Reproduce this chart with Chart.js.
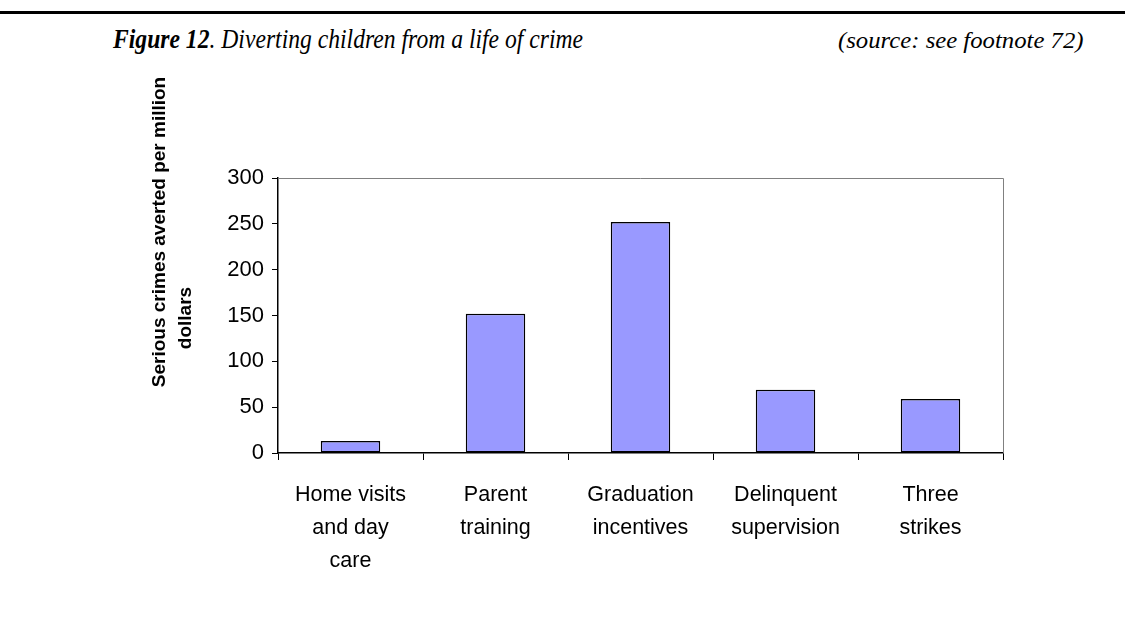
<!DOCTYPE html>
<html>
<head>
<meta charset="utf-8">
<script src="https://cdn.jsdelivr.net/npm/chart.js@4/dist/chart.umd.min.js"></script>
<style>
  html, body { margin: 0; padding: 0; background: #fff; }
  #page { position: relative; width: 1125px; height: 633px; overflow: hidden; }
  #topRule { position: absolute; left: 0; top: 11px; width: 1125px; height: 3px; background: #000; }
  .head { position: absolute; font-family: "Liberation Serif", "Times New Roman", serif; font-style: italic; color: #000; white-space: nowrap; transform-origin: left top; }
  #figTitle { left: 113px; top: 24px; font-size: 27px; transform: scaleX(0.875); }
  #figSource { left: 838px; top: 27px; font-size: 24px; transform: scaleX(1.03); }
  #chartCanvas { position: absolute; left: 0; top: 0; }
</style>
</head>
<body>
<div id="page">
  <div id="topRule"></div>
  <div id="figTitle" class="head"><b>Figure 12</b>. Diverting children from a life of crime</div>
  <div id="figSource" class="head">(source: see footnote 72)</div>
  <canvas id="chartCanvas" width="1125" height="633"></canvas>
</div>
<script>
// DATA
const categories = [
    ['Home visits', 'and day', 'care'],
    ['Parent', 'training'],
    ['Graduation', 'incentives'],
    ['Delinquent', 'supervision'],
    ['Three', 'strikes']
];
const crimesAverted = [13, 152, 252, 69, 59];
const yTitleLines = ['Serious crimes averted per million', 'dollars'];
const yMin = 0;
const yMax = 300;
const yStep = 50;

const fontSans = '"Liberation Sans", Arial, sans-serif';


// PLOT FRAME + ROTATED Y TITLE
function drawRotated(ctx, text, x, y) {
    ctx.save();
    ctx.fillStyle = '#000';
    ctx.font = 'bold 19px ' + fontSans;
    ctx.textAlign = 'center';
    ctx.textBaseline = 'middle';
    ctx.translate(x, y);
    ctx.rotate(-Math.PI / 2);
    ctx.fillText(text, 0, 0);
    ctx.restore();
}

const framePlugin = {
    id: 'frame',
    beforeDatasetsDraw(chart) {
        const { ctx, chartArea } = chart;
        ctx.save();
        ctx.strokeStyle = '#808080';
        ctx.lineWidth = 1;
        ctx.beginPath();
        ctx.moveTo(chartArea.left, chartArea.top + 0.5);
        ctx.lineTo(chartArea.right + 0.5, chartArea.top + 0.5);
        ctx.lineTo(chartArea.right + 0.5, chartArea.bottom);
        ctx.stroke();
        ctx.restore();
    },
    afterDraw(chart) {
        drawRotated(chart.ctx, yTitleLines[0], 160, 232);
        drawRotated(chart.ctx, yTitleLines[1], 186, 318);
    }
};


// BAR CHART
const ctx = document.getElementById('chartCanvas').getContext('2d');

new Chart(ctx, {
    type: 'bar',
    data: {
        labels: categories,
        datasets: [{
            data: crimesAverted,
            backgroundColor: '#9999FF',
            borderColor: '#000',
            borderWidth: 1.5,
            borderSkipped: false,
            categoryPercentage: 1,
            barPercentage: 0.41
        }]
    },
    options: {
        responsive: false,
        animation: false,
        layout: {
            padding: { left: 0, top: 178, right: 122, bottom: 0 }
        },
        plugins: {
            legend: { display: false },
            tooltip: { enabled: false }
        },
        scales: {
            x: {
                grid: {
                    display: true,
                    drawOnChartArea: false,
                    drawTicks: true,
                    tickLength: 7,
                    color: '#000',
                    offset: true
                },
                border: { color: '#000', width: 1.5 },
                ticks: {
                    color: '#000',
                    font: { family: fontSans, size: 21.5, lineHeight: 1.55 },
                    padding: 18,
                    maxRotation: 0,
                    autoSkip: false
                },
                afterFit(scale) { scale.height = 180; }
            },
            y: {
                min: yMin,
                max: yMax,
                grid: {
                    display: true,
                    drawOnChartArea: false,
                    drawTicks: true,
                    tickLength: 6,
                    color: '#000'
                },
                border: { color: '#000', width: 1.5 },
                ticks: {
                    stepSize: yStep,
                    color: '#000',
                    font: { family: fontSans, size: 22 },
                    padding: 8
                },
                afterFit(scale) { scale.width = 278; }
            }
        }
    },
    plugins: [framePlugin]
});
</script>
</body>
</html>
